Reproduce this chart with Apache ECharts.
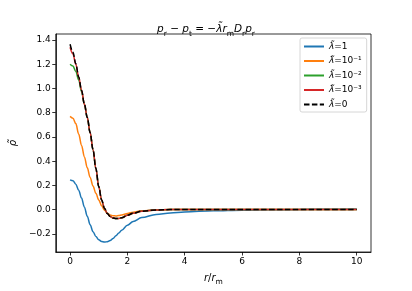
<!DOCTYPE html>
<html><head><meta charset="utf-8">
<script src="https://cdn.jsdelivr.net/npm/echarts@6/dist/echarts.min.js"></script>
<style>html,body{margin:0;padding:0;background:#fff}#c{width:412px;height:291px}</style>
</head><body><div id="c"></div>
<script>
const xs = [0,0.1,0.2,0.3,0.4,0.5,0.6,0.7,0.8,0.9,1.0,1.1,1.2,1.3,1.4,1.5,1.6,1.7,1.8,2.0,2.2,2.5,3,3.5,4,5,6,7,8,9,10];
const lam1 = [0.245,0.238,0.21,0.16,0.095,0.02,-0.055,-0.125,-0.182,-0.222,-0.249,-0.263,-0.268,-0.265,-0.255,-0.238,-0.216,-0.193,-0.17,-0.129,-0.098,-0.066,-0.04,-0.027,-0.019,-0.01,-0.005,-0.002,0.001,0.003,0.005];
const lam1e1 = [0.77,0.755,0.71,0.625,0.53,0.435,0.345,0.265,0.195,0.135,0.08,0.032,-0.005,-0.03,-0.045,-0.051,-0.052,-0.049,-0.044,-0.032,-0.021,-0.01,-0.003,0,0,0,0,0,0,0,0];
const lam1e2 = [1.2,1.185,1.14,1.07,0.975,0.87,0.76,0.635,0.495,0.34,0.19,0.08,0.01,-0.033,-0.057,-0.069,-0.074,-0.073,-0.067,-0.047,-0.03,-0.013,-0.003,0,0,0,0,0,0,0,0];
const lam1e3 = [1.34,1.285,1.2,1.095,0.985,0.87,0.76,0.635,0.495,0.34,0.19,0.08,0.01,-0.033,-0.057,-0.069,-0.074,-0.073,-0.067,-0.047,-0.03,-0.013,-0.003,0,0,0,0,0,0,0,0];
const lam0 = [1.365,1.3,1.205,1.095,0.985,0.87,0.76,0.635,0.495,0.34,0.19,0.08,0.01,-0.033,-0.057,-0.069,-0.074,-0.073,-0.067,-0.047,-0.03,-0.013,-0.003,0,0,0,0,0,0,0,0];
const xTicks = [0,2,4,6,8,10];
const yTicks = [-0.2,0,0.2,0.4,0.6,0.8,1.0,1.2,1.4];
const names = ['l1','l2','l3','l4','l0'];
const legendLabels = {
  l1: '{i|λ̃}{n|=1}',
  l2: '{i|λ̃}{n|=10⁻¹}',
  l3: '{i|λ̃}{n|=10⁻²}',
  l4: '{i|λ̃}{n|=10⁻³}',
  l0: '{i|λ̃}{n|=0}'
};
const colors = ['#1f77b4','#ff7f0e','#2ca02c','#d62728','#000000'];
const sets = [lam1, lam1e1, lam1e2, lam1e3, lam0];

const FONT = 'DejaVu Sans';
const fmt = v => (Math.round(v*10)/10).toFixed(1).replace('-', '\u2212');

const series = sets.map((arr, k) => ({
  name: names[k],
  type: 'line',
  data: xs.map((x, i) => [x, arr[i]]),
  symbol: 'none',
  showSymbol: false,
  smooth: 0.35,
  smoothMonotone: 'x',
  lineStyle: { color: colors[k], width: 1.5, type: k === 4 ? [5.5, 2.4] : 'solid' },
  itemStyle: { color: colors[k] },
  z: 2 + k
}));

const chart = echarts.init(document.getElementById('c'), null, { renderer: 'canvas' });
chart.setOption({
  animation: false,
  title: {
    text: '{i|p}{s|r}{n| − }{i|p}{s|t}{n| = −}{i|λ̃r}{s|m}{i|D}{s|r}{i|p}{s|r}',
    left: 'center', top: 16,
    textStyle: {
      fontWeight: 'normal',
      rich: {
        i: { fontFamily: FONT, fontStyle: 'italic', fontWeight: 'normal', fontSize: 10.5, color: '#000', verticalAlign: 'bottom', lineHeight: 14 },
        n: { fontFamily: FONT, fontWeight: 'normal', fontSize: 10.5, color: '#000', verticalAlign: 'bottom', lineHeight: 14 },
        s: { fontFamily: FONT, fontWeight: 'normal', fontSize: 7.5, color: '#000', verticalAlign: 'bottom', lineHeight: 10, padding: [0,0,-3,0] }
      }
    }
  },
  grid: { left: 52, right: 41, top: 34, bottom: 32, show: true, borderColor: '#000', borderWidth: 0.8, backgroundColor: 'transparent' },
  legend: {
    data: names,
    orient: 'vertical',
    left: 300, top: 38,
    itemWidth: 20, itemHeight: 8, itemGap: 5.5,
    itemStyle: { opacity: 0 },
    backgroundColor: '#fff', borderColor: '#cccccc', borderWidth: 0.8, borderRadius: 2,
    padding: [4, 5, 3, 3],
    formatter: n => legendLabels[n],
    textStyle: {
      padding: [0,0,0,0],
      rich: {
        i: { fontFamily: FONT, fontStyle: 'italic', fontSize: 9, color: '#000' },
        n: { fontFamily: FONT, fontSize: 9, color: '#000' }
      }
    }
  },
  xAxis: {
    type: 'value', min: -0.5, max: 10.5,
    name: '{i|r}{n|/}{i|r}{s|m}', nameLocation: 'middle', nameGap: 18,
    nameTextStyle: {
      rich: {
        i: { fontFamily: FONT, fontStyle: 'italic', fontSize: 10, color: '#000', verticalAlign: 'bottom', lineHeight: 13 },
        n: { fontFamily: FONT, fontSize: 10, color: '#000', verticalAlign: 'bottom', lineHeight: 13 },
        s: { fontFamily: FONT, fontSize: 7.5, color: '#000', verticalAlign: 'bottom', lineHeight: 9, padding: [0,0,-3,0] }
      }
    },
    axisLine: { show: true, onZero: false, lineStyle: { color: '#000', width: 0.8 } },
    splitLine: { show: false },
    axisTick: { show: true, inside: false, length: 3.5, lineStyle: { color: '#000', width: 0.8 }, customValues: xTicks },
    axisLabel: { fontFamily: FONT, fontSize: 9, color: '#000', margin: 5, customValues: xTicks, formatter: v => String(v) }
  },
  yAxis: {
    type: 'value', min: -0.35, max: 1.45,
    name: 'ρ̃', nameLocation: 'middle', nameGap: 33, nameRotate: 90,
    nameTextStyle: { fontFamily: FONT, fontStyle: 'italic', fontSize: 10, color: '#000' },
    axisLine: { show: true, onZero: false, lineStyle: { color: '#000', width: 0.8 } },
    splitLine: { show: false },
    axisTick: { show: true, inside: false, length: 3.5, lineStyle: { color: '#000', width: 0.8 }, customValues: yTicks },
    axisLabel: { fontFamily: FONT, fontSize: 9, color: '#000', margin: 5, customValues: yTicks, formatter: fmt }
  },
  series: series
});
</script></body></html>
